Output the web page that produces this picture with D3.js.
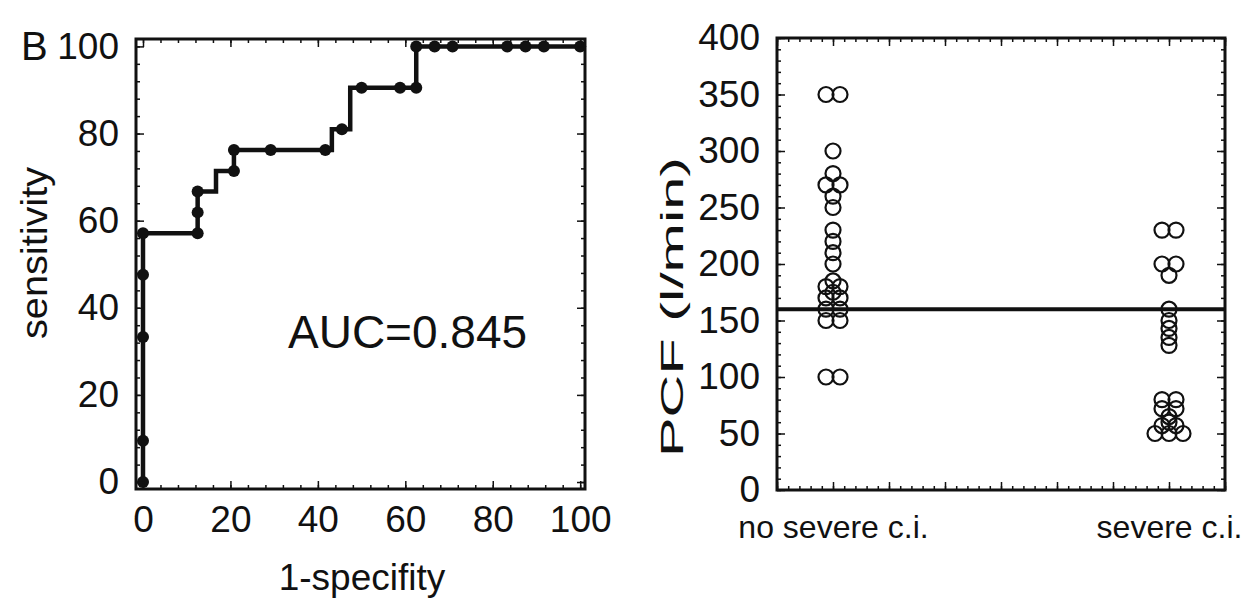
<!DOCTYPE html>
<html>
<head>
<script src="https://cdn.jsdelivr.net/npm/d3@7"></script>
  <meta charset="utf-8">
  <title>ROC and PCF</title>

  <style>
  body {
    margin: 0;
    background: white;
  }
  text {
    font-family: "Liberation Sans", Arial, sans-serif;
    fill: #111;
  }
  .tick line {
    stroke: #111;
    stroke-width: 1.5;
  }
  .domain {
    display: none;
  }
  rect.frame {
    fill: none;
    stroke: #111;
    stroke-width: 3;
  }
  path.roc {
    fill: none;
    stroke: #111;
    stroke-width: 4.5;
  }
  circle.pcf {
    fill: none;
    stroke: #111;
    stroke-width: 2.2;
  }
  </style>

</head>
<body>
<script type="text/javascript">

// ROC curve corners (1-specifity, sensitivity), in %
var rocFpr = [0, 0, 12.5, 12.5, 16.7, 20.8, 41.7, 43.2, 47.4, 62.5, 100];
var rocTpr = [0, 57.1, 57.1, 66.7, 71.4, 76.2, 76.2, 81.0, 90.5, 100, 100];

// cut-off points marked on the curve
var dotFpr = [0, 0, 0, 0, 0, 12.5, 12.5, 12.5, 20.8, 20.8, 29.2, 41.7,
              45.5, 50, 58.8, 62.5, 62.5, 66.7, 70.8, 83.3, 87.5, 91.7, 100];
var dotTpr = [0, 9.5, 33.3, 47.6, 57.1, 57.1, 61.9, 66.7, 71.4, 76.2, 76.2, 76.2,
              81.0, 90.5, 90.5, 90.5, 100, 100, 100, 100, 100, 100, 100];

var aucLabel = "AUC=0.845";
var rocTicks = [0, 20, 40, 60, 80, 100];

// peak cough flow per group (l/min)
var groups = ["no severe c.i.", "severe c.i."];
var pcfNoSevere = [350, 350, 300, 280, 270, 270, 260, 250, 230, 220, 210, 200,
                   185, 180, 180, 175, 170, 170, 160, 160, 150, 150, 100, 100];
var pcfSevere = [230, 230, 200, 200, 190, 160, 150, 143, 135, 128,
                 80, 80, 72, 72, 65, 60, 57, 57, 50, 50, 50];
var pcfCutoff = 160;
var pcfTicks = [0, 50, 100, 150, 200, 250, 300, 350, 400];

var width = 1245,
    height = 600;

var svg = d3.select("body").append("svg")
    .attr("width", width)
    .attr("height", height);

var fontSize = "37px";

// inward ticks on all four sides of a box
function frame(g, x, y, xMajor, xMinor, yMajor, yMinor, xLabels, yLabels) {
  var x0 = x.range()[0], x1 = x.range()[1];
  var y0 = y.range()[0], y1 = y.range()[1];

  g.append("g").attr("transform", "translate(0," + y0 + ")")
    .call(d3.axisBottom(x).tickValues(xMinor).tickSize(-4).tickFormat(""));
  g.append("g").attr("transform", "translate(0," + y1 + ")")
    .call(d3.axisTop(x).tickValues(xMinor).tickSize(-4).tickFormat(""));
  g.append("g").attr("transform", "translate(0," + y1 + ")")
    .call(d3.axisTop(x).tickValues(xMajor).tickSize(-8).tickFormat(""));
  var bx = g.append("g").attr("transform", "translate(0," + y0 + ")")
    .call(d3.axisBottom(x).tickValues(xMajor).tickSize(-8).tickPadding(17)
      .tickFormat(xLabels ? null : ""));
  bx.selectAll("text").style("font-size", fontSize);

  g.append("g").attr("transform", "translate(" + x0 + ",0)")
    .call(d3.axisLeft(y).tickValues(yMinor).tickSize(-4).tickFormat(""));
  g.append("g").attr("transform", "translate(" + x1 + ",0)")
    .call(d3.axisRight(y).tickValues(yMinor).tickSize(-4).tickFormat(""));
  g.append("g").attr("transform", "translate(" + x1 + ",0)")
    .call(d3.axisRight(y).tickValues(yMajor).tickSize(-8).tickFormat(""));
  var ly = g.append("g").attr("transform", "translate(" + x0 + ",0)")
    .call(d3.axisLeft(y).tickValues(yMajor).tickSize(-8).tickPadding(17)
      .tickFormat(yLabels ? null : ""));
  ly.selectAll("text").style("font-size", fontSize);

  g.append("rect").attr("class", "frame")
    .attr("x", x0).attr("y", y1)
    .attr("width", x1 - x0).attr("height", y0 - y1);
}

// ---------- left panel: ROC ----------
var xR = d3.scaleLinear().domain([-1.6, 101.1]).range([136, 585]);
var yR = d3.scaleLinear().domain([-1.6, 101.7]).range([489, 39]);

var left = svg.append("g");
var minorR = d3.range(0, 101, 4);

var rocPts = rocFpr.map(function(d, i) { return [d, rocTpr[i]]; });
left.append("path")
    .attr("class", "roc")
    .attr("d", d3.line()
      .x(function(d) { return xR(d[0]); })
      .y(function(d) { return yR(d[1]); })
      .curve(d3.curveStepAfter)(rocPts));

left.selectAll("circle.dot")
    .data(dotFpr.map(function(d, i) { return [d, dotTpr[i]]; }))
    .enter().append("circle")
    .attr("class", "dot")
    .attr("cx", function(d) { return xR(d[0]); })
    .attr("cy", function(d) { return yR(d[1]); })
    .attr("r", 6)
    .style("fill", "#111");

frame(left, xR, yR, rocTicks, minorR, rocTicks, minorR, true, true);

left.append("text")
    .attr("x", 288).attr("y", 348)
    .style("font-size", "46px")
    .text(aucLabel);

left.append("text")
    .attr("x", 21).attr("y", 60)
    .style("font-size", "40px")
    .text("B");

left.append("text")
    .attr("x", 362).attr("y", 590)
    .attr("text-anchor", "middle")
    .style("font-size", "37px")
    .text("1-specifity");

left.append("text")
    .attr("transform", "translate(47,253) rotate(-90)")
    .attr("text-anchor", "middle")
    .attr("textLength", 172)
    .attr("lengthAdjust", "spacingAndGlyphs")
    .style("font-size", "36px")
    .text("sensitivity");

// ---------- right panel: PCF ----------
var xP = d3.scalePoint().domain(groups).range([777, 1225]).padding(1 / 6);
var xPt = d3.scaleLinear().domain([0, 8]).range([777, 1225]);
var yP = d3.scaleLinear().domain([0, 400]).range([490, 38]);

var right = svg.append("g");

frame(right, xPt, yP, d3.range(0, 9), d3.range(0, 8.01, 0.2),
      pcfTicks, d3.range(0, 401, 10), false, true);

right.append("g")
    .attr("transform", "translate(0,490)")
    .call(d3.axisBottom(xP).tickSize(0).tickPadding(25))
    .selectAll("text").style("font-size", "32px");

right.append("line")
    .attr("x1", xPt.range()[0]).attr("x2", xPt.range()[1])
    .attr("y1", yP(pcfCutoff)).attr("y2", yP(pcfCutoff))
    .style("stroke", "#111")
    .style("stroke-width", 4);

// spread equal values sideways so they do not sit on top of each other
var dodge = 7;
function points(values, group) {
  var counts = d3.rollup(values, function(v) { return v.length; }, function(d) { return d; });
  var seen = new Map();
  return values.map(function(v) {
    var n = counts.get(v), k = seen.get(v) || 0;
    seen.set(v, k + 1);
    return {x: xP(group) + (k - (n - 1) / 2) * 2 * dodge, y: yP(v)};
  });
}

var pts = points(pcfNoSevere, groups[0]).concat(points(pcfSevere, groups[1]));
right.selectAll("circle.pcf")
    .data(pts).enter().append("circle")
    .attr("class", "pcf")
    .attr("cx", function(d) { return d.x; })
    .attr("cy", function(d) { return d.y; })
    .attr("r", 7.5);

right.append("text")
    .attr("transform", "translate(683,307) rotate(-90)")
    .attr("text-anchor", "middle")
    .attr("textLength", 300)
    .attr("lengthAdjust", "spacingAndGlyphs")
    .style("font-size", "32px")
    .text("PCF (l/min)");

</script>
</body>
</html>
